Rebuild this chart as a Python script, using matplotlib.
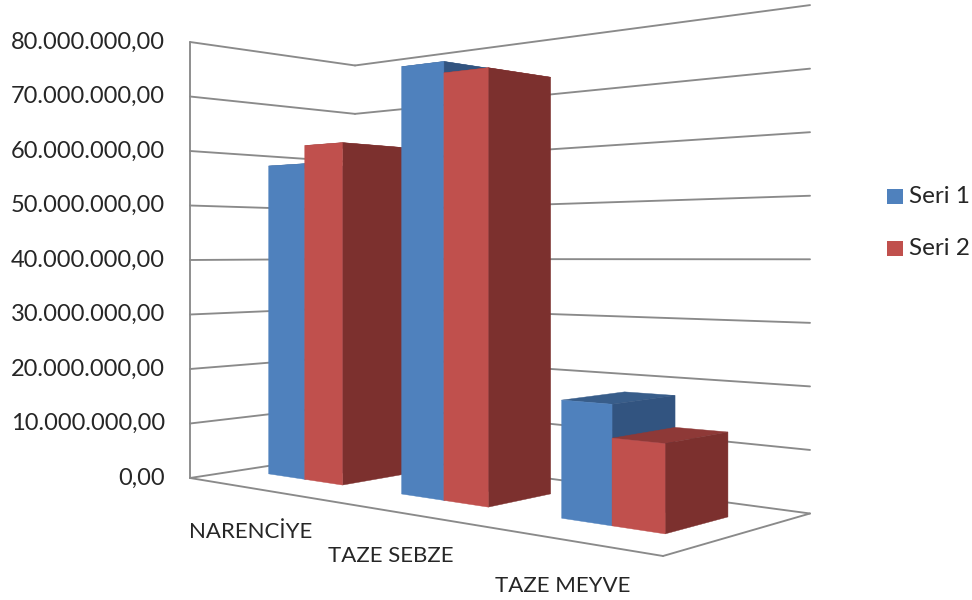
#!/usr/bin/env python3
"""Excel style 3D clustered column chart, drawn with a hand made perspective."""

import matplotlib
matplotlib.use("Agg")
import matplotlib.pyplot as plt
import numpy as np
from matplotlib.patches import Polygon, Rectangle

categories = ["NARENCİYE", "TAZE SEBZE", "TAZE MEYVE"]
series_names = ["Seri 1", "Seri 2"]
seri_1 = [57_500_000, 73_000_000, 18_300_000]
seri_2 = [60_800_000, 71_100_000, 13_200_000]
tick_values = [0, 10_000_000, 20_000_000, 30_000_000, 40_000_000,
               50_000_000, 60_000_000, 70_000_000, 80_000_000]

FRONT = ["#4F81BD", "#C0504D"]
TOP = ["#385D8A", "#8E3937"]
SIDE = ["#325480", "#7C302E"]
GRID = "#8A8A8A"
TEXT = "#262626"
FONT = "Lato"

# floor corners in pixels: front left, front right, back right, back left
FLOOR = np.array([(190, 478), (663, 556), (810, 513.5), (355, 452.6)], dtype=float)
# bar footprint on the unit floor
BAR_W = 0.0938
CLUSTER_X = [0.0705, 0.397, 0.7304]


def floor_matrix():
    a, b, c, d = FLOOR
    s = a - b + c - d
    d1, d2 = b - c, d - c
    det = np.cross(d1, d2)
    g = np.cross(s, d2) / det
    h = np.cross(d1, s) / det
    return np.array([
        [b[0] * (1 + g) - a[0], d[0] * (1 + h) - a[0], a[0]],
        [b[1] * (1 + g) - a[1], d[1] * (1 + h) - a[1], a[1]],
        [g, h, 1.0],
    ])


M = floor_matrix()


def project(x, d, v):
    """x along the categories, d into the depth, v the value."""
    px, py, w = M @ np.array([x, d, 1.0])
    # pixels per million, measured on the wall corners
    k = 5.45 + 0.19 * x - 0.05 * d
    return px / w, (py - k * v / 1e6) / w


def face(ax, pts, color, z):
    ax.add_patch(Polygon([project(*p) for p in pts], closed=True, facecolor=color,
                         edgecolor=color, linewidth=0.3, zorder=z))


def line(ax, p0, p1, lw=1.35):
    a, b = project(*p0), project(*p1)
    ax.plot([a[0], b[0]], [a[1], b[1]], color=GRID, lw=lw, zorder=1,
            solid_capstyle="round")


def bar(ax, x0, v, s, z):
    x1 = x0 + BAR_W
    # excel draws the boxes a bit deeper towards the right
    d00, d01 = 0.295 + 0.02 * x0, 0.295 + 0.02 * x1
    d10, d11 = 0.637 + 0.108 * x0, 0.637 + 0.108 * x1
    # top first: above eye level the side and front hide it
    face(ax, [(x0, d00, v), (x1, d01, v), (x1, d11, v), (x0, d10, v)], TOP[s], z)
    face(ax, [(x1, d01, 0), (x1, d11, 0), (x1, d11, v), (x1, d01, v)], SIDE[s], z)
    face(ax, [(x0, d00, 0), (x1, d01, 0), (x1, d01, v), (x0, d00, v)], FRONT[s], z)


def main():
    fig = plt.figure(figsize=(9.72, 6.0), dpi=100)
    ax = fig.add_axes([0, 0, 1, 1])
    ax.set_xlim(0, 972)
    ax.set_ylim(600, 0)
    ax.axis("off")

    # walls and floor
    top = tick_values[-1]
    line(ax, (0, 0, 0), (0, 0, top))
    for v in tick_values:
        line(ax, (0, 0, v), (0, 1, v))
        line(ax, (0, 1, v), (1, 1, v))
    line(ax, (0, 0, 0), (1, 0, 0))
    line(ax, (1, 0, 0), (1, 1, 0))

    for v in tick_values:
        label = f"{v:,.2f}".replace(",", "#").replace(".", ",").replace("#", ".")
        _, y = project(0, 0, v)
        ax.text(165, y, label, ha="right", va="center", fontsize=17, color=TEXT, family=FONT)

    # left to right, nearer bars cover the sides of the ones before
    for i, x0 in enumerate(CLUSTER_X):
        z = 3 + i * 2
        bar(ax, x0, seri_1[i], 0, z)
        bar(ax, x0 + BAR_W, seri_2[i], 1, z + 1)

    label_pos = [(189, 532), (328, 556), (495, 586)]
    for name, (x, y) in zip(categories, label_pos):
        ax.text(x, y, name, ha="left", va="center", fontsize=16, color=TEXT, family=FONT)

    # legend
    for name, color, y in zip(series_names, FRONT, [196.5, 248.5]):
        ax.add_patch(Rectangle((887, y - 7.5), 16, 15, facecolor=color, edgecolor="none"))
        ax.text(909, y, name, ha="left", va="center", fontsize=17.5, color=TEXT, family=FONT)

    fig.savefig("out.png", dpi=100)
    plt.close(fig)


if __name__ == "__main__":
    main()
